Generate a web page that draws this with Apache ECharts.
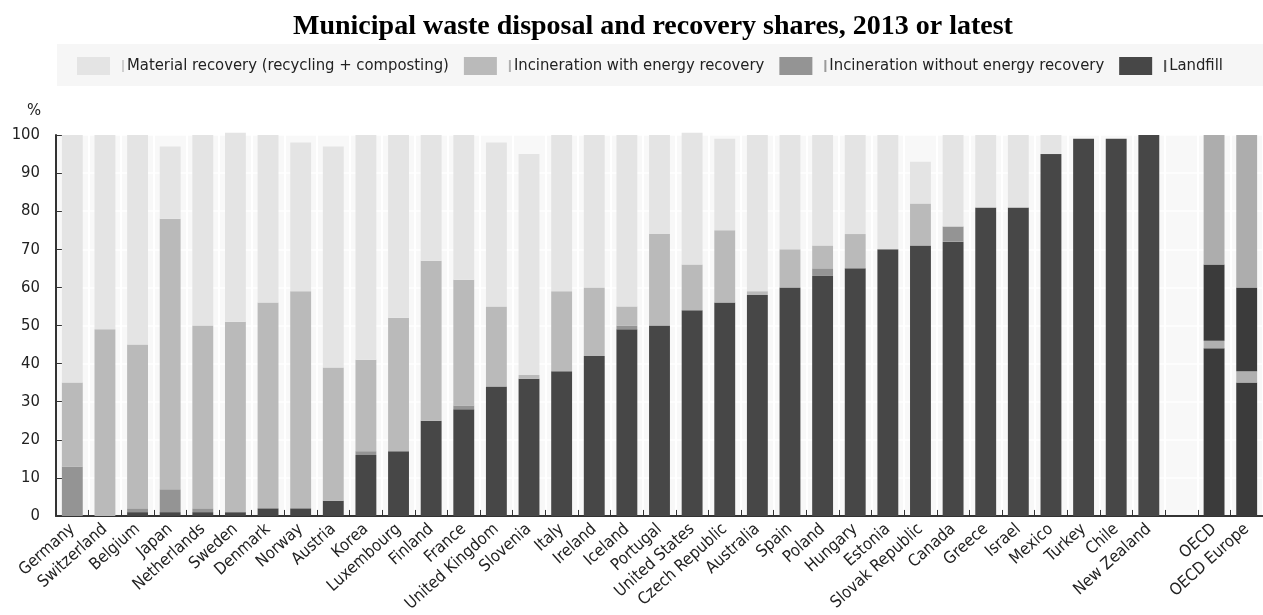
<!DOCTYPE html>
<html>
<head>
<meta charset="utf-8">
<script src="https://cdn.jsdelivr.net/npm/echarts@6/dist/echarts.min.js"></script>
<style>
html,body{margin:0;padding:0;background:#fff;}
#chart{width:1263px;height:615px;}
</style>
</head>
<body>
<div id="chart"></div>
<script>
const categories = ['Germany','Switzerland','Belgium','Japan','Netherlands','Sweden','Denmark','Norway','Austria','Korea','Luxembourg','Finland','France','United Kingdom','Slovenia','Italy','Ireland','Iceland','Portugal','United States','Czech Republic','Australia','Spain','Poland','Hungary','Estonia','Slovak Republic','Canada','Greece','Israel','Mexico','Turkey','Chile','New Zealand','','OECD','OECD Europe'];
const landfill      = [0,0,1,1,1,1,2,2,4,16,17,25,28,34,36,38,42,49,50,54,56,58,60,63,65,70,71,72,81,81,95,99,99,100,null,44,35];
const incinWithout  = [13,0,1,6,1,0,0,0,0,1,0,0,1,0,0,0,0,1,0,0,0,0,0,2,0,0,0,4,0,0,0,0,0,0,null,2,3];
const incinWith     = [22,49,43,71,48,50,54,57,35,24,35,42,33,21,1,21,18,5,24,12,19,1,10,6,9,0,11,0,0,0,0,0,0,0,null,20,22];
const material      = [65,51,55,19,50,49.6,44,39,58,59,48,33,38,43,58,41,40,45,26,34.6,24,41,30,29,26,30,11,24,19,19,5,0,0,0,null,34,40];
const seriesNames = ['Material recovery (recycling + composting)','Incineration with energy recovery','Incineration without energy recovery','Landfill'];
const yTicks = [0,10,20,30,40,50,60,70,80,90,100];

const FONT = "'Liberation Sans Narrow','Arial Narrow','DejaVu Sans Condensed',sans-serif";
const FS = 16.5;
const baseColors = {landfill:'#474747', without:'#949494', withE:'#bababa', material:'#e4e4e4'};
const oecdColors = {landfill:'#3b3b3b', without:'#b0b0b0', withE:'#3b3b3b', material:'#adadad'};
const highlight = ['OECD','OECD Europe'];

function mk(arr, key){
  return arr.map((v,i)=> highlight.includes(categories[i]) ? {value:v, itemStyle:{color:oecdColors[key]}} : v);
}

const chart = echarts.init(document.getElementById('chart'), null, {renderer:'canvas'});
const barW = '64%';
const legendBar = {s0:'#cfcfcf', s1:'#b0b0b0', s2:'#9a9a9a', s3:'#555555'};
const rich = {g:{width:7}, h:{width:3}, t:{fontFamily:FONT, fontSize:FS, color:'#222'}};
Object.keys(legendBar).forEach(k=>{ rich[k] = {width:2, height:12, backgroundColor:legendBar[k]}; });

chart.setOption({
  backgroundColor:'#ffffff',
  animation:false,
  title:{
    text:'Municipal waste disposal and recovery shares, 2013 or latest',
    left:288, top:8,
    textStyle:{fontFamily:"'Liberation Serif','Times New Roman',serif", fontWeight:'bold', fontSize:28, color:'#000'}
  },
  graphic:[{type:'rect', left:57, top:44, shape:{width:1206, height:42}, style:{fill:'#f6f6f6'}, z:-1}],
  legend:{
    data:seriesNames,
    left:77, top:57,
    itemWidth:33, itemHeight:18, itemGap:15,
    icon:'rect',
    padding:0,
    formatter:function(name){
      const idx = seriesNames.indexOf(name);
      return '{g| }{s'+idx+'| }{h| }{t|'+name+'}';
    },
    textStyle:{fontFamily:FONT, fontSize:FS, color:'#222', rich:rich}
  },
  grid:{left:56, right:0, top:135, bottom:99, show:true, backgroundColor:'#f8f8f8', borderWidth:0},
  xAxis:{
    type:'category', data:categories,
    axisLine:{show:true, lineStyle:{color:'#333', width:2}},
    axisTick:{show:true, inside:true, length:6, interval:0, lineStyle:{color:'#333'}},
    splitLine:{show:true, interval:0, lineStyle:{color:'#ffffff', width:2}},
    axisLabel:{interval:0, rotate:42, margin:11, fontFamily:FONT, fontSize:FS, color:'#222'}
  },
  yAxis:{
    type:'value', min:0, max:100, interval:10,
    name:'%', nameLocation:'end', nameGap:16,
    nameTextStyle:{fontFamily:FONT, fontSize:FS, color:'#222', align:'right', padding:[0,15,0,0]},
    axisLine:{show:true, lineStyle:{color:'#333', width:2}},
    axisTick:{show:true, inside:true, length:6, lineStyle:{color:'#333'}},
    splitLine:{show:true, lineStyle:{color:'#ffffff', width:1.5}},
    axisLabel:{margin:16, fontFamily:FONT, fontSize:FS, color:'#222',
      formatter:function(v){ return yTicks.includes(v) ? String(v) : ''; }}
  },
  series:[
    {name:seriesNames[3], type:'bar', stack:'a', barWidth:barW, clip:false, itemStyle:{color:baseColors.landfill}, data:mk(landfill,'landfill')},
    {name:seriesNames[2], type:'bar', stack:'a', barWidth:barW, clip:false, itemStyle:{color:baseColors.without}, data:mk(incinWithout,'without')},
    {name:seriesNames[1], type:'bar', stack:'a', barWidth:barW, clip:false, itemStyle:{color:baseColors.withE}, data:mk(incinWith,'withE')},
    {name:seriesNames[0], type:'bar', stack:'a', barWidth:barW, clip:false, itemStyle:{color:baseColors.material}, data:mk(material,'material')}
  ]
});
</script>
</body>
</html>
